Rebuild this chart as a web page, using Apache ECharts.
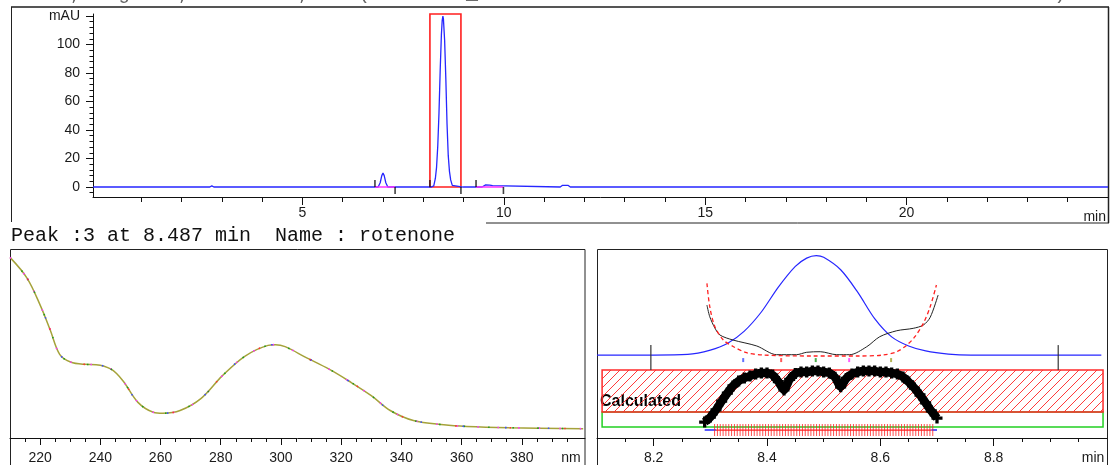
<!DOCTYPE html>
<html>
<head>
<meta charset="utf-8">
<script src="https://cdn.jsdelivr.net/npm/echarts@6/dist/echarts.min.js"></script>
<style>
  html, body { margin: 0; padding: 0; background: #fff; }
  #chart { width: 1111px; height: 465px; }
</style>
</head>
<body>
<div id="chart"></div>
<script>
// ---- Chromatogram, DAD signal 295 nm (time in min, absorbance in mAU) ----
const chromTime = [-0.2, 2.70, 2.75, 2.80, 5.94, 5.98, 6.02,
  6.88, 6.93, 6.97, 7.00, 7.03, 7.07, 7.12,
  8.10, 8.20, 8.26, 8.30, 8.33, 8.36, 8.39, 8.42, 8.45, 8.47, 8.487, 8.50,
  8.53, 8.56, 8.59, 8.62, 8.65, 8.68, 8.72, 8.76, 8.99,
  9.46, 9.50, 9.55, 9.65, 9.72, 9.76, 11.40, 11.45, 11.60, 11.65, 25.0];
const chromMAU = [0, 0, 0.8, 0, 0, 0.7, 0,
  0, 3, 8, 9.8, 8, 3, 0,
  0, 0, 0.8, 6, 14, 29, 52, 82, 107, 117, 120, 118,
  103, 76, 44, 22, 11, 5, 1.2, 0, 0,
  0, 1.2, 1.5, 1.4, 1.0, 0, 0, 1.1, 1.1, 0, 0];
const timeTicks = [5, 10, 15, 20];
const timeMinorTicks = [1, 2, 3, 4, 6, 7, 8, 9, 11, 12, 13, 14, 16, 17, 18, 19, 21, 22, 23, 24];
const mauTicks = [0, 20, 40, 60, 80, 100, 120];
const mauMinorTicks = [-4, 4, 8, 12, 16, 24, 28, 32, 36, 44, 48, 52, 56, 64, 68, 72, 76,
  84, 88, 92, 96, 104, 108, 112, 116];
// integration events and baselines
const peakStarts = [6.8, 8.165, 9.31];
const peakEnds = [7.3, 8.935, 9.99];
const baselineSegments = [[6.8, 7.3], [9.31, 9.99]];
const selectedPeakWindow = [8.165, 8.935];
const selectedPeakTop = 121.4;

// ---- UV spectrum of peak 3 (nm, mAU) ----
const wavelengths = [210, 215.7, 220.2, 223.3, 226.5, 230.1, 234.8, 238.6, 243.6, 247.5,
  252.5, 257.6, 260.8, 266.5, 273.5, 280.5, 288.1, 295.7, 298.2, 301.4,
  308.4, 316.0, 322.4, 330.0, 336.3, 344.0, 354.1, 361.7, 375.7, 400.4];
const spectrumMAU = [233.2, 206.2, 170.0, 140.1, 108.0, 98.1, 95.1, 94.7, 88.8, 73.9,
  46.0, 33.3, 32.0, 35.5, 51.2, 80.2, 105.8, 119.6, 120.5, 117.9,
  103.8, 88.8, 73.9, 54.7, 35.5, 22.6, 17.0, 14.9, 13.3, 12.0];
const nmTicks = [220, 240, 260, 280, 300, 320, 340, 360, 380];
const nmMinorTicks = [215, 225, 230, 235, 245, 250, 255, 265, 270, 275, 285, 290, 295,
  305, 310, 315, 325, 330, 335, 345, 350, 355, 365, 370, 375, 385, 390, 395];

// ---- Peak purity ----
const purityTicks = [8.2, 8.4, 8.6, 8.8];
const purityMinorTicks = [8.15, 8.25, 8.3, 8.35, 8.45, 8.5, 8.55, 8.65, 8.7, 8.75, 8.85, 8.9, 8.95];
const similarityTime = [8.294, 8.299, 8.308, 8.317, 8.340, 8.382, 8.417, 8.452, 8.470, 8.494,
  8.523, 8.546, 8.576, 8.599, 8.629, 8.658, 8.676, 8.688, 8.702];
const similarityValue = [60.4, 46.3, 32.7, 24.2, 18.2, 11.0, 0.5, 0.5, 3.4, 4.1,
  0.5, 0.5, 10.1, 22.2, 29.4, 32.3, 36.3, 45.6, 72.5];
const thresholdTime = [8.294, 8.299, 8.308, 8.323, 8.341, 8.364, 8.394, 8.480, 8.559,
  8.605, 8.629, 8.647, 8.661, 8.676, 8.688, 8.699];
const thresholdValue = [86.6, 58.4, 34.3, 18.2, 10.1, 2.9, 0.1, -1.1, -1.1,
  0.1, 4.1, 12.2, 22.2, 38.4, 58.4, 84.6];
const purityTime = [8.29, 8.30, 8.31, 8.32, 8.33, 8.34, 8.35, 8.36, 8.37, 8.38, 8.39, 8.40,
  8.41, 8.42, 8.43, 8.44, 8.45, 8.46, 8.47, 8.48, 8.49, 8.50, 8.51, 8.52, 8.53, 8.54,
  8.55, 8.56, 8.57, 8.58, 8.59, 8.60, 8.61, 8.62, 8.63, 8.64, 8.65, 8.66, 8.67, 8.68,
  8.69, 8.70];
const purityValue = [975.2, 977.6, 981.0, 985.2, 989.0, 992.4, 994.8, 996.2, 997.1, 998.1, 998.6, 998.6,
  997.6, 994.5, 990.5, 995.5, 998.3, 999.0, 999.0, 999.5, 999.5, 999.0, 998.6, 996.5, 992.0, 996.0,
  998.1, 999.0, 999.5, 999.5, 999.5, 999.0, 999.0, 998.6, 998.1, 996.7, 994.3, 991.4, 988.1, 984.3,
  980.5, 977.1];
const spectraTimes = [8.358, 8.425, 8.486, 8.545, 8.619];
const spectraColors = ['#3a4cff', '#ff3030', '#1f9a1f', '#ff33ff', '#a3a12a'];
const peakLimits = [8.195, 8.914];
const bandTimes = [8.109, 8.993];
const thresholdBand = [980, 1000];
const noiseBand = [972.86, 980];

// ---- drawing ----
const chart = echarts.init(document.getElementById('chart'), null, { renderer: 'canvas' });
const sans = 'Liberation Sans, Arial, sans-serif';
const mono = 'Liberation Mono, Courier New, monospace';
const ink = '#111';
const blue = '#2626ff';
const markerLevel = -6;      // level of the spectrum markers under the signal
const limitLevel = -3;
const tickLevel = 971.4;

function mainAxis(grid, min, max, ticks, len, margin, fmt, position) {
  return {
    type: 'value', gridIndex: grid, position: position, min: min, max: max,
    axisLine: { show: true, onZero: false, lineStyle: { color: ink, width: 1 } },
    axisTick: { show: true, customValues: ticks, length: len, lineStyle: { color: ink, width: 1 } },
    axisLabel: { show: true, customValues: ticks, margin: margin, formatter: fmt,
      color: '#1a1a1a', fontFamily: sans, fontSize: 14, showMinLabel: true, showMaxLabel: true },
    splitLine: { show: false }
  };
}
function minorAxis(grid, min, max, ticks, len, position) {
  return {
    type: 'value', gridIndex: grid, position: position, min: min, max: max,
    axisLine: { show: false, onZero: false },
    axisTick: { show: true, customValues: ticks, length: len, lineStyle: { color: ink, width: 1 } },
    axisLabel: { show: false },
    splitLine: { show: false }
  };
}
function hiddenAxis(grid, min, max) {
  return { type: 'value', gridIndex: grid, min: min, max: max, show: false,
    axisLine: { onZero: false }, splitLine: { show: false } };
}

function hatch() {
  const c = document.createElement('canvas');
  c.width = 9; c.height = 9;
  const g = c.getContext('2d');
  g.strokeStyle = '#ff3b3b';
  g.lineWidth = 1;
  g.beginPath();
  g.moveTo(0, 9); g.lineTo(9, 0);
  g.moveTo(-1, 1); g.lineTo(1, -1);
  g.moveTo(8, 10); g.lineTo(10, 8);
  g.stroke();
  return c;
}

const pairs = (xs, ys) => xs.map((x, i) => [x, ys[i]]);
const chromData = pairs(chromTime, chromMAU);
const windowData = chromData.filter(p => p[0] >= 8.1 && p[0] <= 8.99);
const plusSymbol = 'path://M3.5,0H6.5V3.5H10V6.5H6.5V10H3.5V6.5H0V3.5H3.5Z';
const doubleTick = 'path://M0,0h1v12h-1zM2.85,0h1v12h-1z';
const nP = purityTime.length;

const spectrumSeries = (color, width, type, offset, z) => ({
  type: 'line', xAxisIndex: 2, yAxisIndex: 2, data: pairs(wavelengths, spectrumMAU),
  smooth: 0.35, symbol: 'none', silent: true, z: z,
  lineStyle: { color: color, width: width, type: type, dashOffset: offset }
});

const option = {
  animation: false,
  backgroundColor: '#fff',
  grid: [
    { left: 93, right: 3, top: 14, bottom: 268 },
    { left: 10, right: 526, top: 249, bottom: 27 },
    { left: 597, right: 4, top: 249, bottom: 27 }
  ],
  xAxis: [
    mainAxis(0, -0.2, 25, timeTicks, 8, 9, v => String(v), 'bottom'),
    minorAxis(0, -0.2, 25, timeMinorTicks, 5, 'bottom'),
    mainAxis(1, 210, 401, nmTicks, 7, 13, v => String(v), 'bottom'),
    minorAxis(1, 210, 401, nmMinorTicks, 4, 'bottom'),
    mainAxis(2, 8.1, 9.0, purityTicks, 8, 13, v => v.toFixed(1), 'bottom'),
    minorAxis(2, 8.1, 9.0, purityMinorTicks, 4, 'bottom')
  ],
  yAxis: [
    mainAxis(0, -7, selectedPeakTop, mauTicks, 7, 13, v => (v === 120 ? 'mAU' : String(v)), 'left'),
    minorAxis(0, -7, selectedPeakTop, mauMinorTicks, 3.5, 'left'),
    hiddenAxis(1, 0, 244),
    hiddenAxis(2, -100, 128),
    hiddenAxis(2, 967.62, 1057.62)
  ],
  series: [
    // chromatogram with the selected peak window
    {
      type: 'line', xAxisIndex: 0, yAxisIndex: 0, data: chromData, symbol: 'none', z: 3,
      lineStyle: { color: blue, width: 1.3 }, silent: true,
      markArea: {
        silent: true,
        itemStyle: { color: 'rgba(0,0,0,0)', borderColor: '#ff1f1f', borderWidth: 1.6 },
        data: [[{ xAxis: selectedPeakWindow[0], yAxis: 0 },
                { xAxis: selectedPeakWindow[1], yAxis: selectedPeakTop }]]
      }
    },
    {
      type: 'line', xAxisIndex: 0, yAxisIndex: 0, symbol: 'none', z: 4, silent: true,
      data: baselineSegments.flatMap(([a, b]) => [[a, 0], [b, 0], [b, '-']]),
      lineStyle: { color: '#ff33ff', width: 1.6 }
    },
    {
      type: 'scatter', xAxisIndex: 0, yAxisIndex: 0, silent: true, z: 5,
      data: peakStarts.map(t => [t, 0]), symbol: 'rect', symbolSize: [1.6, 7],
      symbolOffset: [0, -3.5], itemStyle: { color: '#111' }
    },
    {
      type: 'scatter', xAxisIndex: 0, yAxisIndex: 0, silent: true, z: 5,
      data: peakEnds.map(t => [t, 0]), symbol: 'rect', symbolSize: [1.6, 7],
      symbolOffset: [0, 3.5], itemStyle: { color: '#111' }
    },

    // overlaid spectra of the peak
    spectrumSeries('#a5a23a', 1.5, 'solid', 0, 2),
    spectrumSeries('#ff33ff', 1.6, [1.5, 19], 0, 3),
    spectrumSeries('#1f9a1f', 1.6, [1.5, 23], 7, 3),
    spectrumSeries('#3a4cff', 1.6, [1.5, 41], 15, 3),
    spectrumSeries('#ff3030', 1.6, [1.5, 53], 27, 3),

    // purity window: signal, similarity and threshold curves
    {
      type: 'line', xAxisIndex: 4, yAxisIndex: 3, data: windowData, symbol: 'none', z: 3,
      silent: true, smooth: 0.3, lineStyle: { color: blue, width: 1.2 }
    },
    {
      type: 'line', xAxisIndex: 4, yAxisIndex: 3, data: pairs(similarityTime, similarityValue),
      symbol: 'none', z: 4, silent: true, smooth: 0.3, lineStyle: { color: '#222', width: 1 }
    },
    {
      type: 'line', xAxisIndex: 4, yAxisIndex: 3, data: pairs(thresholdTime, thresholdValue),
      symbol: 'none', z: 4, silent: true, smooth: 0.3,
      lineStyle: { color: '#ff2020', width: 1.3, type: [4, 3] }
    },
    {
      type: 'scatter', xAxisIndex: 4, yAxisIndex: 3, silent: true, z: 5,
      data: spectraTimes.map((t, i) => ({ value: [t, markerLevel], itemStyle: { color: spectraColors[i] } })),
      symbol: 'rect', symbolSize: [2, 4]
    },
    {
      type: 'scatter', xAxisIndex: 4, yAxisIndex: 3, silent: true, z: 5,
      data: peakLimits.map(t => [t, limitLevel]), symbol: 'rect', symbolSize: [1.5, 25],
      itemStyle: { color: '#333' }
    },
    // threshold and noise bands
    {
      type: 'line', xAxisIndex: 4, yAxisIndex: 4, data: [], z: 1, silent: true,
      markArea: {
        silent: true,
        data: [
          [{ xAxis: bandTimes[0], yAxis: noiseBand[1],
             itemStyle: { color: 'rgba(0,0,0,0)', borderColor: '#22d022', borderWidth: 1.5 } },
           { xAxis: bandTimes[1], yAxis: noiseBand[0] }],
          [{ xAxis: bandTimes[0], yAxis: thresholdBand[1],
             itemStyle: { color: { image: hatch(), repeat: 'repeat' }, borderColor: '#ff2a2a', borderWidth: 1.5 } },
           { xAxis: bandTimes[1], yAxis: thresholdBand[0] }]
        ]
      }
    },
    // purity curve
    {
      type: 'line', xAxisIndex: 4, yAxisIndex: 4, data: pairs(purityTime, purityValue), z: 6,
      silent: true, showAllSymbol: true, symbol: plusSymbol, symbolSize: 11, smooth: 0.2,
      itemStyle: { color: '#000' }, lineStyle: { color: '#000', width: 8.5 }
    },
    {
      type: 'scatter', xAxisIndex: 4, yAxisIndex: 4, silent: true, z: 5,
      data: purityTime.slice(2, nP - 1).map(t => [t, tickLevel]),
      symbol: doubleTick, symbolSize: [3.85, 12], itemStyle: { color: '#ff2020' }
    },
    {
      type: 'line', xAxisIndex: 4, yAxisIndex: 4, symbol: 'none', silent: true, z: 5,
      data: [[purityTime[2], tickLevel], [purityTime[nP - 2], tickLevel]],
      lineStyle: { color: '#ff2020', width: 1.2 }
    },
    {
      type: 'line', xAxisIndex: 4, yAxisIndex: 4, symbol: 'none', silent: true, z: 5,
      data: [[purityTime[0], tickLevel], [purityTime[2], tickLevel], [purityTime[2], '-'],
             [purityTime[nP - 2], tickLevel], [purityTime[nP - 1], tickLevel]],
      lineStyle: { color: blue, width: 1.5 }
    }
  ],
  graphic: [
    { type: 'text', left: -2, top: -16, silent: true,
      style: { text: 'DAD1 A, Sig=295,4 Ref=360,100 (ROTENONE_STANDARD\\ROTENONE 2013-05-23 10-45-48\\012-0201.D)',
        font: '20px ' + mono, fill: '#666' } },
    { type: 'line', silent: true, shape: { x1: 11, y1: 7, x2: 1109, y2: 7 },
      style: { stroke: '#555', lineWidth: 2 } },
    { type: 'line', silent: true, shape: { x1: 11.5, y1: 7, x2: 11.5, y2: 222 },
      style: { stroke: '#222', lineWidth: 1 } },
    { type: 'line', silent: true, shape: { x1: 1108.5, y1: 7, x2: 1108.5, y2: 223 },
      style: { stroke: '#222', lineWidth: 1.5 } },
    { type: 'line', silent: true, shape: { x1: 486, y1: 223, x2: 1109, y2: 223 },
      style: { stroke: '#222', lineWidth: 1 } },
    { type: 'text', silent: true, x: 1106, y: 217,
      style: { text: 'min', font: '14px ' + sans, fill: '#1a1a1a', align: 'right', verticalAlign: 'middle' } },
    { type: 'text', silent: true, x: 11, y: 236,
      style: { text: 'Peak :3 at 8.487 min  Name : rotenone', font: '20px ' + mono, fill: '#111',
        verticalAlign: 'middle' } },
    { type: 'rect', silent: true, shape: { x: 10.5, y: 249.5, width: 574.5, height: 230 },
      style: { fill: 'none', stroke: '#222', lineWidth: 1 } },
    { type: 'rect', silent: true, shape: { x: 597.5, y: 249.5, width: 510, height: 230 },
      style: { fill: 'none', stroke: '#222', lineWidth: 1 } },
    { type: 'text', silent: true, x: 571, y: 458,
      style: { text: 'nm', font: '14px ' + sans, fill: '#1a1a1a', align: 'center', verticalAlign: 'middle' } },
    { type: 'text', silent: true, x: 1093, y: 458,
      style: { text: 'min', font: '14px ' + sans, fill: '#1a1a1a', align: 'center', verticalAlign: 'middle' } },
    { type: 'text', silent: true, x: 600, y: 402,
      style: { text: 'Calculated', font: 'bold 16px ' + sans, fill: '#000', verticalAlign: 'middle' } }
  ]
};
chart.setOption(option);
</script>
</body>
</html>
